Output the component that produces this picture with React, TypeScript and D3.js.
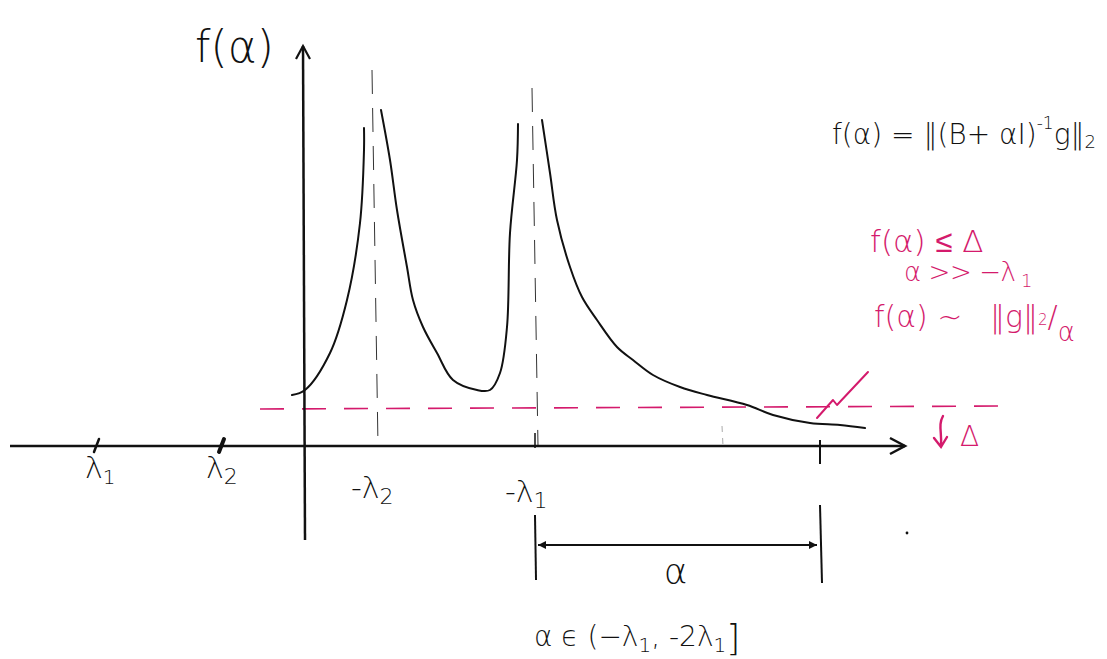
import * as d3 from "d3";

// sketch of f(alpha) = ||(B + alpha I)^-1 g||_2, in sketch units (origin at the axes crossing)
const peakLeft = [
  [-0.13, 0.51], [0.0, 0.56], [0.25, 0.93], [0.42, 1.46], [0.55, 2.23], [0.59, 2.96], [0.59, 3.18],
];
const valley = [
  [0.76, 3.36], [0.85, 2.86], [0.92, 2.36], [1.02, 1.79], [1.08, 1.46], [1.18, 1.19], [1.32, 0.93],
  [1.48, 0.66], [1.72, 0.56], [1.85, 0.56], [1.95, 0.73], [2.02, 1.19], [2.05, 2.13], [2.12, 2.86], [2.13, 3.22],
];
const tail = [
  [2.37, 3.26], [2.45, 2.73], [2.52, 2.26], [2.65, 1.79], [2.77, 1.49], [2.92, 1.26], [3.12, 0.99],
  [3.28, 0.86], [3.48, 0.71], [3.75, 0.59], [4.02, 0.51], [4.42, 0.41], [4.68, 0.31], [5.05, 0.23],
  [5.35, 0.21], [5.6, 0.18],
];
const segments = [peakLeft, valley, tail];

const lambda1 = -2.08;
const lambda2 = -0.83;
const negLambda2 = 0.7;
const negLambda1 = 2.3;
const alphaEnd = 5.15;
const delta = 0.37;

const asymptotes = [
  { x: negLambda2, top: 3.76 },
  { x: negLambda1, top: 3.58 },
];
const zigzag = [[5.12, 0.28], [5.28, 0.46], [5.32, 0.41], [5.63, 0.74]];

const black = "#111";
const pink = "#d41a6c";
const hand = "'DejaVu Sans', sans-serif";

export default function App() {
  const width = 1107;
  const height = 659;
  const x = d3.scaleLinear().domain([-2.95, 6.0]).range([10, 905]);
  const y = d3.scaleLinear().domain([0, 4]).range([446, 46]);
  const line = d3.line<number[]>().x((d) => x(d[0])).y((d) => y(d[1])).curve(d3.curveCatmullRom.alpha(0.5));

  const x0 = x(0);
  const y0 = y(0);
  const bracketY = 545;

  return (
    <div style={{ position: "absolute", left: 0, top: 0, background: "#fff" }}>
      <svg width={width} height={height} style={{ display: "block", fontFamily: hand, fontWeight: 200 }}>
        {/* asymptotes */}
        {asymptotes.map((a) => (
          <line key={a.x} x1={x(a.x) - 3} x2={x(a.x) + 3} y1={y(a.top)} y2={y(0)} stroke="#333" strokeWidth={1} strokeDasharray="24 14" />
        ))}
        <line x1={x(4.17)} x2={x(4.18)} y1={y(0.2)} y2={y(0)} stroke="#aaa" strokeWidth={1} strokeDasharray="6 6" />

        {/* Delta level */}
        <line x1={x(-0.45)} x2={x(7.1)} y1={y(delta)} y2={y(delta + 0.03)} stroke={pink} strokeWidth={1.6} strokeDasharray="24 18" />

        {/* axes */}
        <line x1={x(-2.95)} x2={x(6.0)} y1={y0} y2={y0} stroke={black} strokeWidth={2.5} />
        <path d={`M${x(6.0) - 15},${y0 - 8} L${x(6.0)},${y0} L${x(6.0) - 15},${y0 + 8}`} fill="none" stroke={black} strokeWidth={2.5} />
        <line x1={x0} x2={x0 - 2} y1={y(-0.94)} y2={y(4.0)} stroke={black} strokeWidth={2.5} />
        <path d={`M${x0 - 9},${y(4.0) + 13} L${x0 - 2},${y(4.0)} L${x0 + 5},${y(4.0) + 13}`} fill="none" stroke={black} strokeWidth={2.2} />

        {/* ticks */}
        {[lambda1, lambda2].map((t, i) => (
          <line key={t} x1={x(t) - 3} x2={x(t) + 2} y1={y0 + 6} y2={y0 - 7} stroke={black} strokeWidth={i === 0 ? 2.5 : 4} strokeLinecap="round" />
        ))}
        <line x1={x(negLambda1)} x2={x(negLambda1)} y1={y0 - 13} y2={y0 + 2} stroke={black} strokeWidth={1.5} />
        <line x1={x(alphaEnd)} x2={x(alphaEnd)} y1={y0 - 6} y2={y0 + 18} stroke={black} strokeWidth={2} />

        {/* curve */}
        {segments.map((s, i) => (
          <path key={i} d={line(s as number[][]) ?? ""} fill="none" stroke={black} strokeWidth={2} strokeLinecap="round" />
        ))}

        {/* pink pointer */}
        <path d={line.curve(d3.curveLinear)(zigzag as number[][]) ?? ""} fill="none" stroke={pink} strokeWidth={2} strokeLinecap="round" strokeLinejoin="round" />

        {/* labels */}
        <text x={x0 - 110} y={62} fontSize={44} fill={black}>f(α)</text>
        <text x={x(lambda1) - 12} y={478} fontSize={30} fill={black}>λ<tspan fontSize={20} dy={6}>1</tspan></text>
        <text x={x(lambda2) - 16} y={478} fontSize={30} fill={black}>λ<tspan fontSize={22} dy={6}>2</tspan></text>
        <text x={x(negLambda2) - 24} y={498} fontSize={30} fill={black}>-λ<tspan fontSize={22} dy={6}>2</tspan></text>
        <text x={x(negLambda1) - 30} y={502} fontSize={30} fill={black}>-λ<tspan fontSize={22} dy={6}>1</tspan></text>

        <text x={832} y={144} fontSize={28} fill={black}>
          f(α) = ‖(B+ αI)<tspan fontSize={17} dy={-15}>-1</tspan><tspan dy={15}>g‖</tspan><tspan fontSize={18} dy={4}>2</tspan>
        </text>

        {/* alpha span */}
        <line x1={x(negLambda1)} x2={x(negLambda1) + 1} y1={bracketY - 30} y2={bracketY + 35} stroke={black} strokeWidth={2} />
        <line x1={x(alphaEnd)} x2={x(alphaEnd) + 2} y1={bracketY - 40} y2={bracketY + 38} stroke={black} strokeWidth={2} />
        <line x1={x(negLambda1) + 3} x2={x(alphaEnd) - 3} y1={bracketY} y2={bracketY} stroke={black} strokeWidth={1.8} />
        <path d={`M${x(negLambda1) + 3},${bracketY} l8,-4 l0,8 z`} fill={black} />
        <path d={`M${x(alphaEnd) - 3},${bracketY} l-8,-4 l0,8 z`} fill={black} />
        <text x={(x(negLambda1) + x(alphaEnd)) / 2 - 2} y={584} fontSize={36} textAnchor="middle" fill={black}>α</text>
        <text x={534} y={646} fontSize={28} fill={black}>
          α ϵ (−λ<tspan fontSize={20} dy={6}>1</tspan><tspan dy={-6}>, -2λ</tspan><tspan fontSize={20} dy={6}>1</tspan><tspan fontSize={36} dy={-2}>]</tspan>
        </text>

        {/* pink notes */}
        <text x={870} y={252} fontSize={31} fill={pink}>f(α) ≤ Δ</text>
        <text x={904} y={281} fontSize={26} fill={pink} textLength={112} lengthAdjust="spacing">α &gt;&gt; −λ</text>
        <text x={1021} y={287} fontSize={18} fill={pink}>1</text>
        <text x={874} y={327} fontSize={30} fill={pink}>
          f(α) ~ <tspan dx={18}>‖g‖</tspan><tspan fontSize={15} dy={-2}>2</tspan><tspan fontSize={30} dy={2}>/</tspan><tspan fontSize={26} dy={14}>α</tspan>
        </text>
        <path d={`M943,416 C938,425 942,432 941,446 M934,438 L941,447 L947,437`} fill="none" stroke={pink} strokeWidth={2.4} strokeLinecap="round" />
        <text x={960} y={446} fontSize={28} fill={pink}>Δ</text>

        <circle cx={907} cy={533} r={1.4} fill={black} />
      </svg>
    </div>
  );
}
